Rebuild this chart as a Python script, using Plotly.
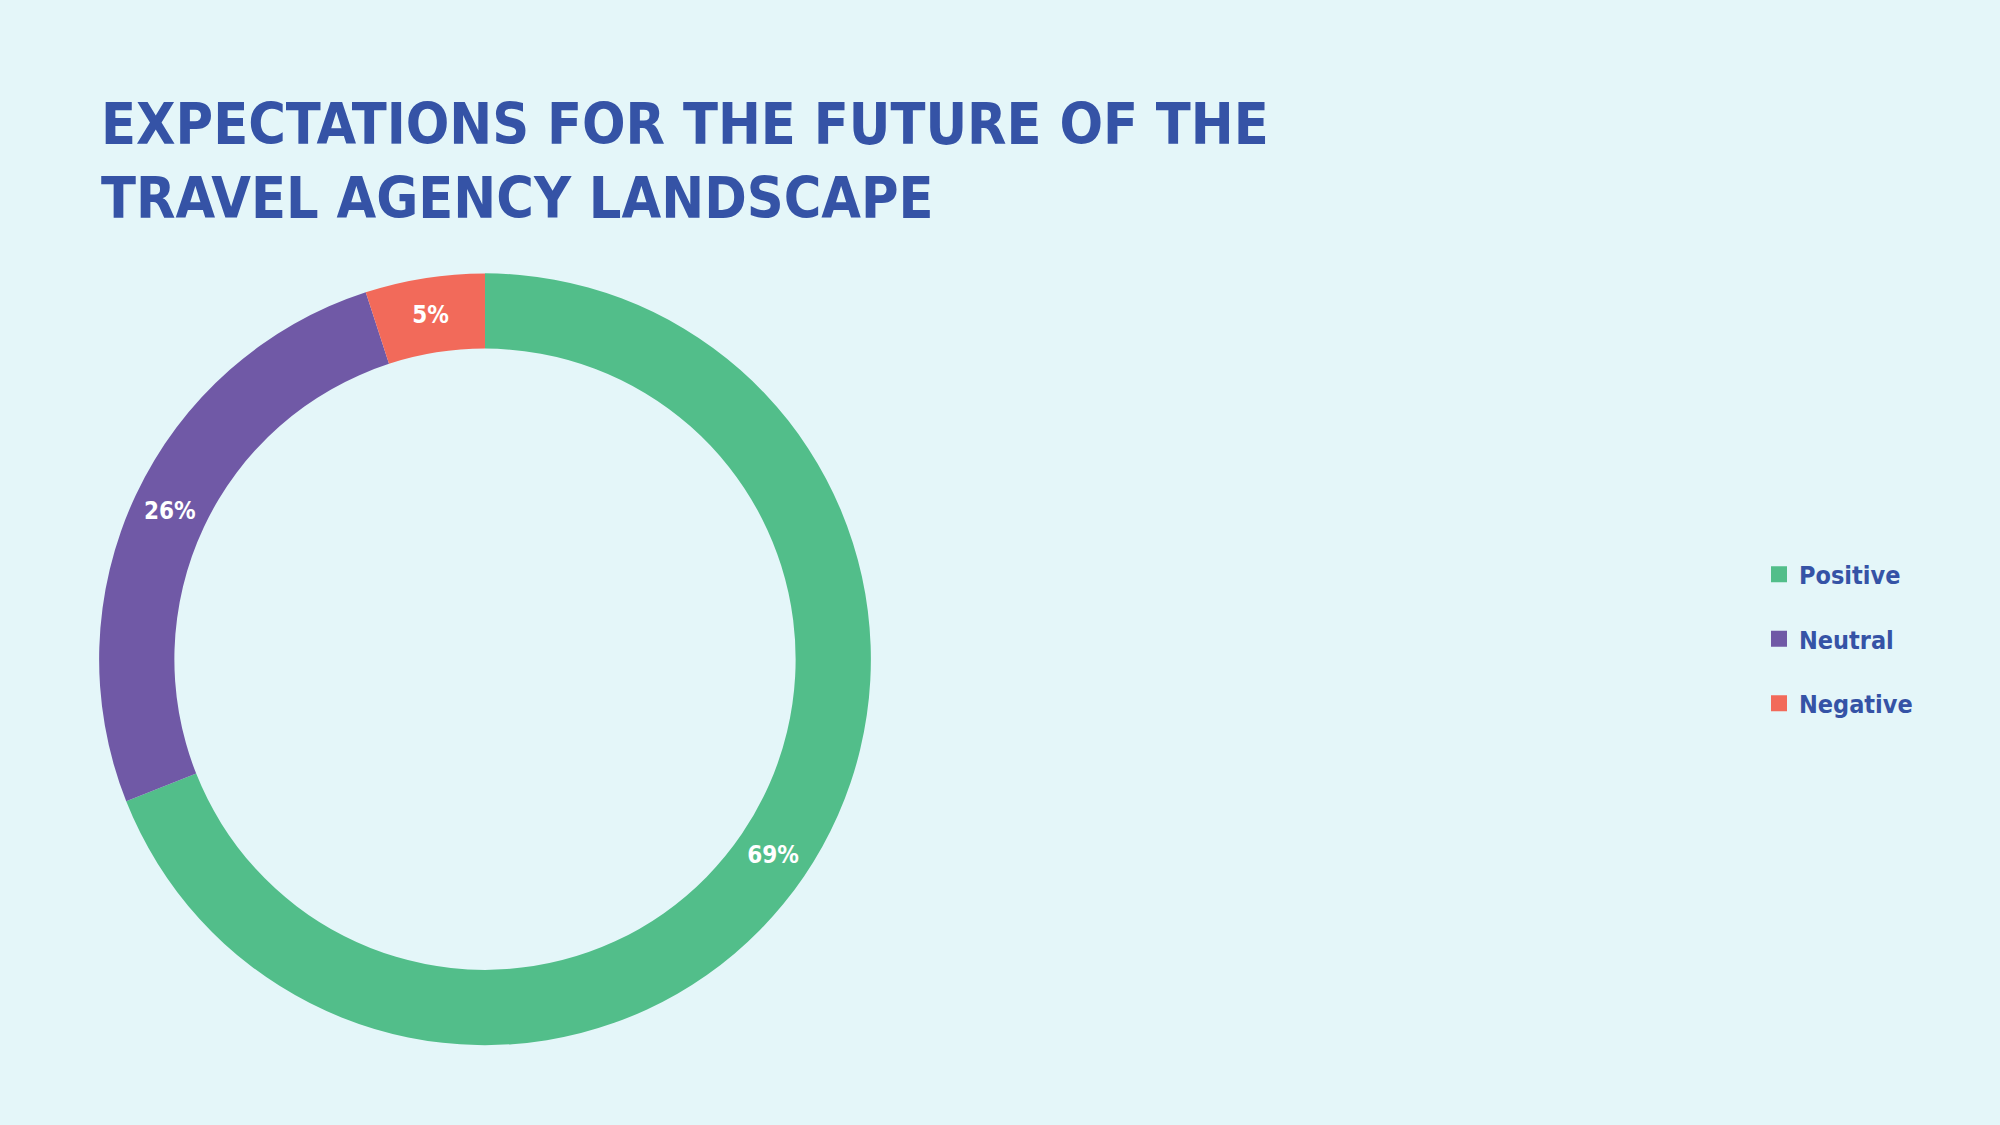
import plotly.graph_objects as go

# survey answers
labels = ["Positive", "Neutral", "Negative"]
values = [69, 26, 5]
colors = ["#52BE8A", "#7059A6", "#F26A5A"]

title_lines = ["EXPECTATIONS FOR THE FUTURE OF THE", "TRAVEL AGENCY LANDSCAPE"]

font_name = "DejaVu Sans Condensed, Liberation Sans Narrow, sans-serif"
blue = "#3553A6"
bg = "#E4F6F9"

fig = go.Figure()

# the donut itself
fig.add_trace(go.Pie(
    labels=labels,
    values=values,
    hole=0.805,
    sort=False,
    direction="clockwise",
    rotation=0,
    marker=dict(colors=colors, line=dict(width=0)),
    texttemplate="<b>%{percent:.0%}</b>",
    textposition="inside",
    insidetextorientation="horizontal",
    textfont=dict(family=font_name, size=24, color="white"),
    domain=dict(x=[0.0495, 0.4355], y=[0.071, 0.757]),
    showlegend=False,
))

# legend entries, one per group so the gap can be set
for lab, col in zip(labels, colors):
    fig.add_trace(go.Scatter(
        x=[None], y=[None],
        mode="markers",
        name="<b>" + lab + "</b>",
        legendgroup=lab,
        marker=dict(symbol="square", size=16, color=col),
        showlegend=True,
    ))

# title
fig.add_annotation(
    text="<b>" + "<br>".join(title_lines) + "</b>",
    xref="paper", yref="paper",
    x=0.0495, y=0.921,
    xanchor="left", yanchor="top",
    align="left",
    showarrow=False,
    font=dict(family=font_name, size=57, color=blue),
)

fig.update_layout(
    width=2000,
    height=1125,
    paper_bgcolor=bg,
    plot_bgcolor=bg,
    margin=dict(l=0, r=0, t=0, b=0),
    xaxis=dict(visible=False),
    yaxis=dict(visible=False),
    legend=dict(
        x=0.8795,
        xanchor="left",
        y=0.432,
        yanchor="middle",
        font=dict(family=font_name, size=25, color=blue),
        bgcolor="rgba(0,0,0,0)",
        itemsizing="trace",
        tracegroupgap=29,
    ),
)

fig.write_html("out.html", config={"displayModeBar": False},
               post_script="document.body.style.margin='0px';")
